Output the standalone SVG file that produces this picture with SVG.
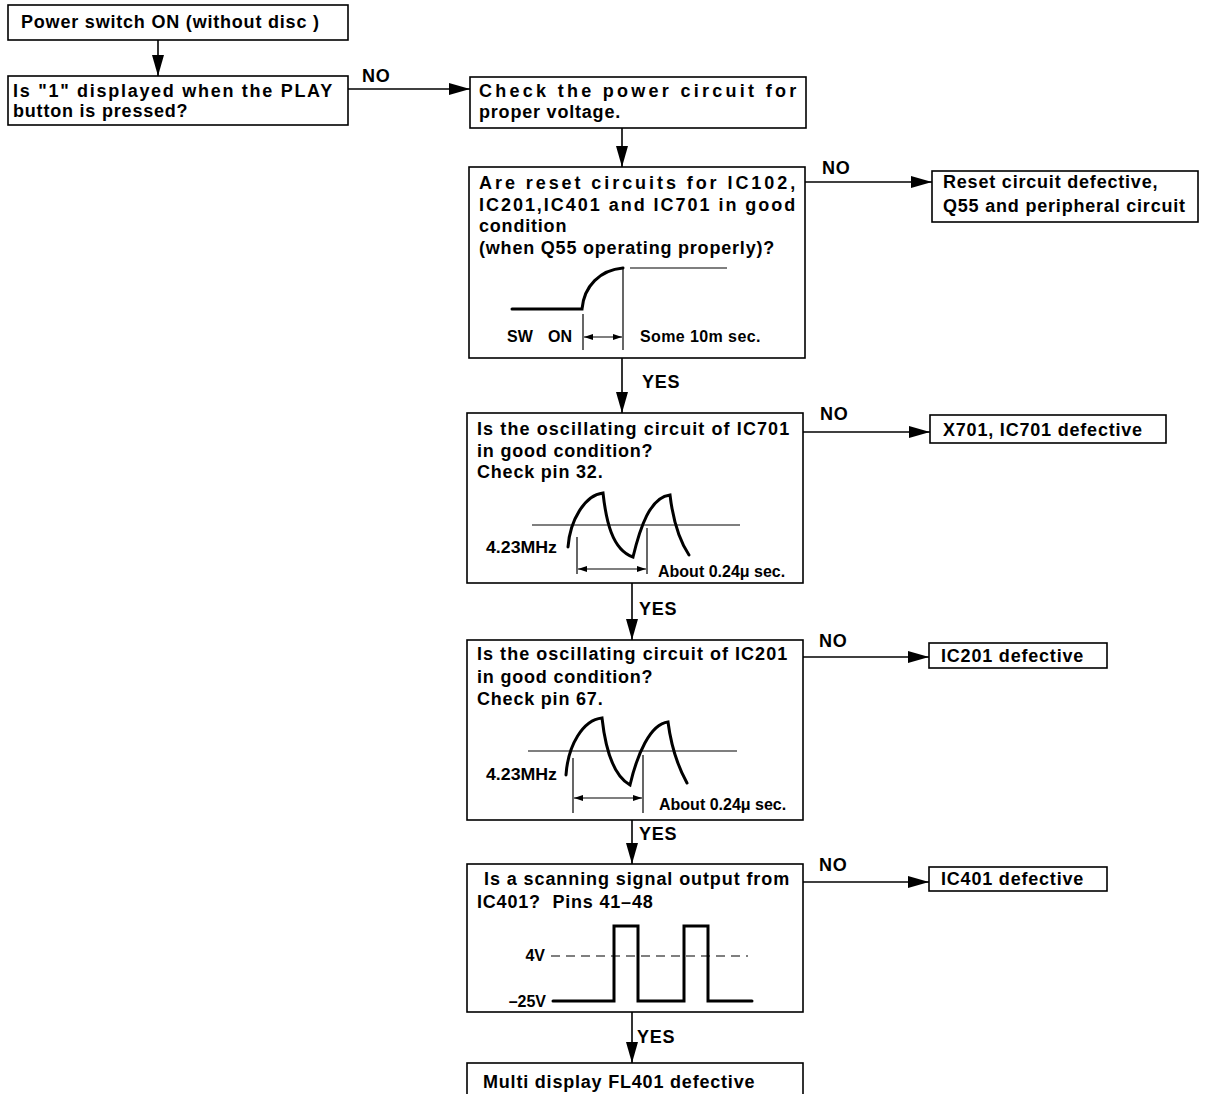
<svg xmlns="http://www.w3.org/2000/svg" width="1206" height="1094" viewBox="0 0 1206 1094">
<style>
.box{fill:#fff;stroke:#000;stroke-width:1.6}
.t{font-family:"Liberation Sans",Arial,sans-serif;font-weight:bold;font-size:18px;letter-spacing:0.8px;fill:#000}
.s{font-family:"Liberation Sans",Arial,sans-serif;font-weight:bold;font-size:16px;fill:#000}
.c{fill:none;stroke:#000;stroke-width:1.6}
.w{fill:none;stroke:#000;stroke-width:3;stroke-linecap:round}
.thin{fill:none;stroke:#000;stroke-width:1.2}
</style>
<defs>
<marker id="ah" markerUnits="userSpaceOnUse" markerWidth="22" markerHeight="14" refX="21" refY="6" orient="auto">
<path d="M0,0 L21,6 L0,12 Z" fill="#000"/>
</marker>
<marker id="sh" markerUnits="userSpaceOnUse" markerWidth="10" markerHeight="6" refX="9" refY="3" orient="auto-start-reverse">
<path d="M0,0 L9,3 L0,6 Z" fill="#000"/>
</marker>
</defs>
<rect width="1206" height="1094" fill="#fff"/>

<g id="connectors">
<line class="c" x1="158" y1="40" x2="158" y2="76" marker-end="url(#ah)"/>
<line class="c" x1="348" y1="89" x2="470" y2="89" marker-end="url(#ah)"/>
<line class="c" x1="622" y1="128" x2="622" y2="167" marker-end="url(#ah)"/>
<line class="c" x1="805" y1="182" x2="932" y2="182" marker-end="url(#ah)"/>
<line class="c" x1="622" y1="358" x2="622" y2="413" marker-end="url(#ah)"/>
<line class="c" x1="803" y1="432" x2="930" y2="432" marker-end="url(#ah)"/>
<line class="c" x1="632" y1="583" x2="632" y2="640" marker-end="url(#ah)"/>
<line class="c" x1="803" y1="657" x2="929" y2="657" marker-end="url(#ah)"/>
<line class="c" x1="632" y1="820" x2="632" y2="864" marker-end="url(#ah)"/>
<line class="c" x1="803" y1="882" x2="929" y2="882" marker-end="url(#ah)"/>
<line class="c" x1="632" y1="1012" x2="632" y2="1063" marker-end="url(#ah)"/>
<text class="t" x="362" y="82">NO</text>
<text class="t" x="822" y="174">NO</text>
<text class="t" x="642" y="388">YES</text>
<text class="t" x="820" y="420">NO</text>
<text class="t" x="639" y="615">YES</text>
<text class="t" x="819" y="647">NO</text>
<text class="t" x="639" y="840">YES</text>
<text class="t" x="819" y="871">NO</text>
<text class="t" x="637" y="1043">YES</text>
</g>

<g id="n1">
<rect class="box" x="8" y="5" width="340" height="35"/>
<text class="t" x="21" y="28">Power switch ON (without disc )</text>
</g>

<g id="n2">
<rect class="box" x="8" y="76" width="340" height="49"/>
<text class="t" x="13" y="97" textLength="320" lengthAdjust="spacing">Is "1" displayed when the PLAY</text>
<text class="t" x="13" y="117">button is pressed?</text>
</g>

<g id="n3">
<rect class="box" x="470" y="77" width="336" height="51"/>
<text class="t" x="479" y="97" textLength="318" lengthAdjust="spacing">Check the power circuit for</text>
<text class="t" x="479" y="118">proper voltage.</text>
</g>

<g id="n4">
<rect class="box" x="469" y="167" width="336" height="191"/>
<text class="t" x="479" y="189" textLength="317" lengthAdjust="spacing">Are reset circuits for IC102,</text>
<text class="t" x="479" y="211" textLength="317" lengthAdjust="spacing">IC201,IC401 and IC701 in good</text>
<text class="t" x="479" y="232">condition</text>
<text class="t" x="479" y="254">(when Q55 operating properly)?</text>
<path class="w" d="M512,309 L582,309 C584,286 600,270 623,268"/>
<line class="thin" x1="630" y1="268" x2="727" y2="268"/>
<line class="thin" x1="583" y1="314" x2="583" y2="350"/>
<line class="thin" x1="623" y1="268" x2="623" y2="350"/>
<line class="thin" x1="584" y1="337" x2="622" y2="337" marker-start="url(#sh)" marker-end="url(#sh)"/>
<text class="s" x="507" y="342">SW</text>
<text class="s" x="548" y="342">ON</text>
<text class="s" x="640" y="342" letter-spacing="0.4">Some 10m sec.</text>
</g>

<g id="n5">
<rect class="box" x="932" y="171" width="266" height="51"/>
<text class="t" x="943" y="188">Reset circuit defective,</text>
<text class="t" x="943" y="212">Q55 and peripheral circuit</text>
</g>

<g id="n6">
<rect class="box" x="467" y="413" width="336" height="170"/>
<text class="t" x="477" y="435" textLength="313" lengthAdjust="spacing">Is the oscillating circuit of IC701</text>
<text class="t" x="477" y="457">in good condition?</text>
<text class="t" x="477" y="478">Check pin 32.</text>
<line class="thin" x1="532" y1="525" x2="740" y2="525"/>
<path class="w" d="M568,547 C570,520 585,495 603,493 C606,520 612,550 633,557 C640,528 650,497 670,495 C673,520 679,540 689,555"/>
<line class="thin" x1="577" y1="537" x2="577" y2="574"/>
<line class="thin" x1="647" y1="528" x2="647" y2="574"/>
<line class="thin" x1="578" y1="569" x2="646" y2="569" marker-start="url(#sh)" marker-end="url(#sh)"/>
<text class="s" x="486" y="553" textLength="71" lengthAdjust="spacingAndGlyphs">4.23MHz</text>
<text class="s" x="658" y="577">About 0.24μ sec.</text>
</g>

<g id="n7">
<rect class="box" x="930" y="415" width="236" height="28"/>
<text class="t" x="943" y="436">X701, IC701 defective</text>
</g>

<g id="n8">
<rect class="box" x="467" y="640" width="336" height="180"/>
<text class="t" x="477" y="660" textLength="311" lengthAdjust="spacing">Is the oscillating circuit of IC201</text>
<text class="t" x="477" y="683">in good condition?</text>
<text class="t" x="477" y="705">Check pin 67.</text>
<line class="thin" x1="528" y1="751" x2="737" y2="751"/>
<path class="w" d="M566,775 C568,745 583,720 602,718 C605,745 612,775 630,785 C637,755 650,724 668,722 C671,745 677,765 687,783"/>
<line class="thin" x1="573" y1="758" x2="573" y2="813"/>
<line class="thin" x1="643" y1="755" x2="643" y2="813"/>
<line class="thin" x1="574" y1="798" x2="642" y2="798" marker-start="url(#sh)" marker-end="url(#sh)"/>
<text class="s" x="486" y="780" textLength="71" lengthAdjust="spacingAndGlyphs">4.23MHz</text>
<text class="s" x="659" y="810">About 0.24μ sec.</text>
</g>

<g id="n9">
<rect class="box" x="929" y="643" width="178" height="25"/>
<text class="t" x="941" y="662">IC201 defective</text>
</g>

<g id="n10">
<rect class="box" x="467" y="864" width="336" height="148"/>
<text class="t" x="484" y="885" textLength="306" lengthAdjust="spacing">Is a scanning signal output from</text>
<text class="t" x="477" y="908">IC401?&#160; Pins 41–48</text>
<line class="thin" x1="551" y1="956" x2="748" y2="956" stroke-width="1.6" stroke-dasharray="9,6"/>
<path class="w" d="M553,1001 L614,1001 L614,926 L638,926 L638,1001 L684,1001 L684,926 L708,926 L708,1001 L752,1001" stroke-linecap="butt" stroke-linejoin="miter"/>
<text class="s" x="545" y="961" text-anchor="end">4V</text>
<text class="s" x="546" y="1007" text-anchor="end">–25V</text>
</g>

<g id="n11">
<rect class="box" x="929" y="867" width="178" height="24"/>
<text class="t" x="941" y="885">IC401 defective</text>
</g>

<g id="n12">
<rect class="box" x="467" y="1063" width="336" height="40"/>
<text class="t" x="483" y="1088">Multi display FL401 defective</text>
</g>
</svg>
